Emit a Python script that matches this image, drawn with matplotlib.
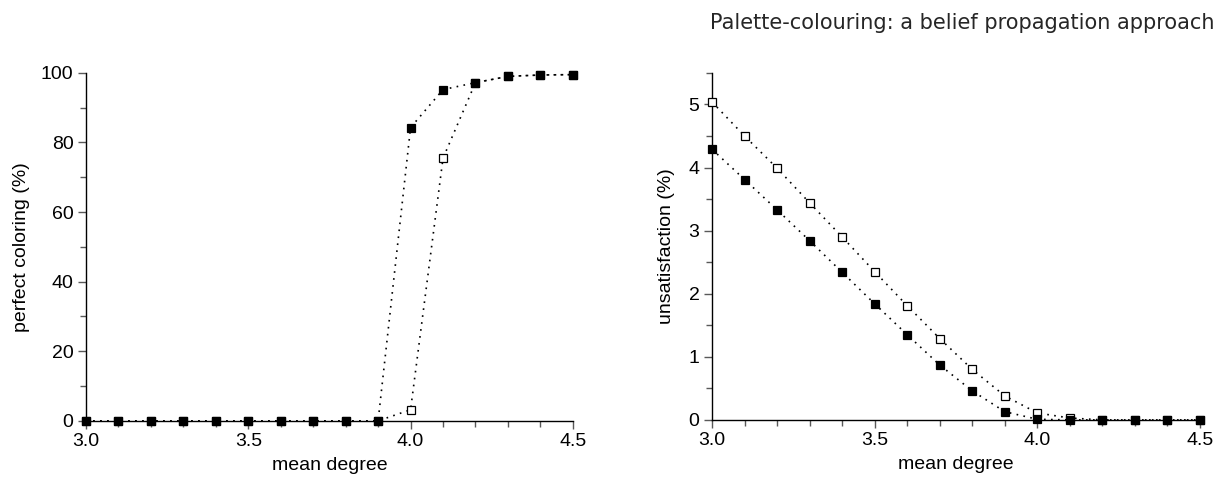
import matplotlib
matplotlib.use("Agg")
import matplotlib.pyplot as plt
from matplotlib.ticker import MultipleLocator, FormatStrFormatter

# mean degree grid shared by both panels
degree = [3.0, 3.1, 3.2, 3.3, 3.4, 3.5, 3.6, 3.7, 3.8, 3.9, 4.0, 4.1, 4.2, 4.3, 4.4, 4.5]

# left panel: perfect colouring (%)
perfect_filled = [0, 0, 0, 0, 0, 0, 0, 0, 0, 0, 84.3, 95.2, 97.2, 99.0, 99.4, 99.5]
perfect_open = [0, 0, 0, 0, 0, 0, 0, 0, 0, 0, 3.2, 75.5, 97.2, 99.0, 99.4, 99.5]

# right panel: unsatisfaction (%)
unsat_open = [5.04, 4.50, 3.99, 3.44, 2.90, 2.35, 1.81, 1.29, 0.80, 0.38, 0.11, 0.03,
              0.0, 0.0, 0.0, 0.0]
unsat_filled = [4.29, 3.81, 3.33, 2.84, 2.34, 1.84, 1.35, 0.87, 0.46, 0.13, 0.01, 0.0,
                0.0, 0.0, 0.0, 0.0]

plt.rcParams["font.family"] = ["Liberation Sans", "DejaVu Sans"]

fig = plt.figure(figsize=(12.24, 4.86), dpi=100)
ax1 = fig.add_axes([0.0703, 0.134, 0.3977, 0.716])
ax2 = fig.add_axes([0.5817, 0.136, 0.3987, 0.714])


def _series(ax, y, filled):
    ax.plot(degree, y, color="black", lw=1.2, dashes=(1, 3.2),
            marker="s", ms=5.5, mec="black", mew=0.9,
            mfc="black" if filled else "white", clip_on=False,
            zorder=4 if filled else 3)


def _style(ax):
    for side in ("top", "right"):
        ax.spines[side].set_visible(False)
    for side in ("left", "bottom"):
        ax.spines[side].set_linewidth(1.0)
    ax.tick_params(which="major", direction="out", length=6, width=1.0,
                   color="0.35", labelsize=14, pad=3)
    ax.tick_params(which="minor", direction="out", length=4, width=1.0, color="0.35")
    ax.set_xlim(3.0, 4.5)
    ax.xaxis.set_major_locator(MultipleLocator(0.5))
    ax.xaxis.set_minor_locator(MultipleLocator(0.1))
    ax.xaxis.set_major_formatter(FormatStrFormatter("%.1f"))
    ax.set_xlabel("mean degree", fontsize=14, labelpad=5)


_series(ax1, perfect_open, False)
_series(ax1, perfect_filled, True)
_style(ax1)
ax1.set_ylim(0, 100)
ax1.yaxis.set_major_locator(MultipleLocator(20))
ax1.yaxis.set_minor_locator(MultipleLocator(10))
ax1.set_ylabel("perfect coloring (%)", fontsize=14, labelpad=8)

_series(ax2, unsat_open, False)
_series(ax2, unsat_filled, True)
_style(ax2)
ax2.set_ylim(0, 5.5)
ax2.yaxis.set_major_locator(MultipleLocator(1))
ax2.yaxis.set_minor_locator(MultipleLocator(0.5))
ax2.set_ylabel("unsatisfaction (%)", fontsize=14, labelpad=10)

fig.text(0.992, 0.952, "Palette-colouring: a belief propagation approach",
         ha="right", va="center", fontsize=15, family="DejaVu Sans", color="0.15")

fig.savefig("out.png", dpi=100)
